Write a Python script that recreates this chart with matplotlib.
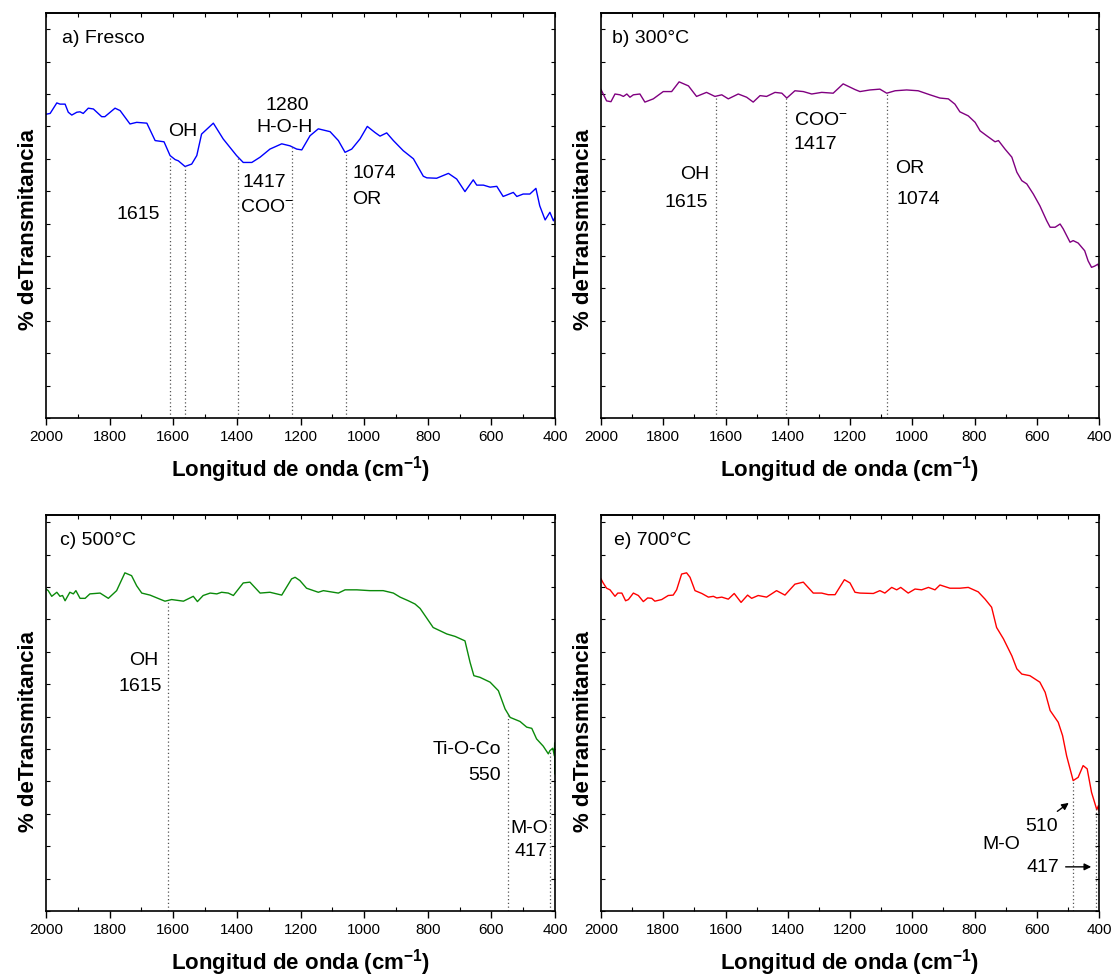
import numpy as np
import matplotlib
matplotlib.use("Agg")
import matplotlib.pyplot as plt
from matplotlib.ticker import MultipleLocator

plt.rcParams["font.family"] = ["Liberation Sans", "DejaVu Sans"]
plt.rcParams["mathtext.fontset"] = "custom"
plt.rcParams["mathtext.rm"] = "Liberation Sans"
plt.rcParams["mathtext.bf"] = "Liberation Sans:bold"
plt.rcParams["mathtext.default"] = "regular"

# ---- data: wavenumber (cm-1) and transmittance (arb. units) ----
wn_fresco = [2000, 1987, 1966, 1956, 1940, 1930, 1919, 1903, 1893, 1883, 1867, 1851, 1825,
             1815, 1783, 1767, 1736, 1715, 1683, 1657, 1629, 1610, 1594, 1584, 1563, 1542,
             1526, 1511, 1474, 1443, 1401, 1380, 1353, 1327, 1296, 1259, 1233, 1212, 1196,
             1170, 1144, 1107, 1081, 1060, 1039, 1013, 990, 966, 950, 929, 908, 877, 845,
             814, 803, 772, 735, 709, 683, 657, 646, 625, 604, 583, 563, 531, 520, 500, 479,
             460, 448, 431, 416, 405, 400]
t_fresco = [75.0, 75.2, 77.8, 77.5, 77.5, 75.5, 74.8, 75.5, 75.6, 75.2, 76.5, 76.3, 74.4,
            74.4, 76.5, 75.9, 72.6, 73.0, 72.8, 68.5, 68.2, 64.8, 63.8, 63.5, 62.1, 62.7,
            64.8, 70.1, 72.8, 68.9, 64.8, 63.1, 63.1, 64.4, 66.4, 67.7, 67.2, 66.4, 66.2,
            69.7, 71.4, 70.7, 68.5, 65.6, 66.4, 68.9, 72.0, 70.5, 69.6, 70.4, 68.5, 66.0,
            64.0, 59.7, 59.3, 59.2, 60.4, 59.0, 55.9, 58.8, 57.5, 57.5, 57.0, 57.2, 54.7,
            55.7, 54.7, 55.3, 55.3, 56.7, 52.4, 48.9, 50.8, 48.7, 49.5]

wn_300 = [2000, 1982, 1968, 1955, 1939, 1928, 1917, 1907, 1896, 1875, 1859, 1832, 1800,
          1773, 1749, 1719, 1693, 1661, 1634, 1612, 1591, 1559, 1532, 1511, 1489, 1468,
          1441, 1419, 1403, 1377, 1350, 1323, 1291, 1254, 1222, 1184, 1168, 1136, 1104,
          1082, 1055, 1018, 981, 943, 911, 884, 863, 847, 820, 798, 782, 761, 734, 723,
          702, 680, 664, 648, 632, 611, 590, 568, 557, 541, 525, 515, 493, 483, 467, 446,
          435, 424, 414, 403, 400]
t_300 = [81.1, 78.3, 78.1, 80.0, 79.8, 79.4, 80.0, 79.2, 79.8, 80.0, 78.0, 78.8, 80.6,
         80.6, 83.0, 82.0, 79.4, 80.4, 79.4, 79.8, 78.8, 80.0, 79.2, 78.0, 79.6, 79.4,
         80.4, 80.2, 79.0, 80.8, 80.6, 80.0, 80.4, 80.2, 82.5, 81.1, 80.6, 81.0, 81.2,
         80.2, 80.8, 81.0, 80.8, 79.8, 79.0, 78.8, 77.5, 75.6, 74.6, 73.0, 70.9, 69.7,
         68.2, 68.5, 66.4, 64.4, 60.7, 58.6, 57.8, 55.3, 52.4, 48.7, 47.1, 47.1, 47.9,
         46.7, 43.4, 43.8, 43.2, 41.3, 38.8, 37.2, 37.5, 38.0, 37.0]

wn_500 = [2000, 1993, 1982, 1966, 1956, 1948, 1940, 1925, 1914, 1906, 1893, 1877, 1862,
          1830, 1804, 1778, 1752, 1731, 1715, 1699, 1673, 1642, 1626, 1605, 1568, 1537,
          1524, 1506, 1484, 1463, 1448, 1427, 1411, 1380, 1359, 1327, 1296, 1259, 1228,
          1217, 1202, 1181, 1144, 1128, 1081, 1060, 1023, 982, 940, 908, 887, 861, 840,
          824, 803, 783, 740, 714, 683, 667, 655, 636, 604, 578, 557, 541, 510, 489, 473,
          458, 437, 421, 416, 407, 402, 401, 400, 400]
t_500 = [79.5, 79.1, 77.7, 78.7, 77.7, 77.9, 76.6, 78.7, 78.3, 79.1, 77.2, 77.2, 78.3,
         78.5, 77.2, 79.1, 83.5, 82.8, 80.3, 78.5, 78.0, 77.0, 76.5, 76.9, 76.5, 77.7,
         76.4, 77.9, 78.5, 78.3, 78.7, 78.5, 77.9, 81.0, 81.2, 78.5, 78.7, 78.0, 82.0,
         82.4, 81.6, 79.7, 78.7, 79.1, 78.5, 79.3, 79.3, 79.1, 79.1, 78.5, 77.5, 76.6,
         75.8, 74.7, 72.3, 70.0, 68.4, 67.8, 66.7, 61.4, 58.1, 57.7, 56.5, 54.4, 49.9,
         47.8, 46.8, 45.4, 45.1, 42.5, 40.7, 38.8, 39.6, 40.2, 38.3, 41.5, 33.8, 41.0]

wn_700 = [2000, 1993, 1982, 1971, 1955, 1946, 1933, 1921, 1912, 1896, 1880, 1864, 1850,
          1837, 1827, 1805, 1784, 1768, 1757, 1741, 1725, 1714, 1698, 1676, 1655, 1639,
          1628, 1612, 1591, 1572, 1550, 1529, 1516, 1495, 1468, 1436, 1409, 1377, 1350,
          1318, 1291, 1270, 1248, 1218, 1200, 1184, 1168, 1125, 1104, 1088, 1066, 1050,
          1037, 1013, 991, 970, 948, 927, 911, 879, 847, 820, 788, 766, 745, 729, 707,
          680, 664, 648, 622, 590, 573, 557, 531, 517, 504, 483, 467, 451, 438, 424, 407,
          402, 400]
t_700 = [82.0, 81.0, 79.7, 79.3, 77.7, 78.5, 78.5, 76.6, 76.9, 78.5, 77.9, 76.4, 77.3,
         77.2, 76.5, 76.9, 77.9, 78.0, 79.3, 83.2, 83.5, 82.4, 79.1, 78.4, 77.5, 77.7,
         77.3, 77.5, 77.0, 78.4, 76.2, 78.0, 77.2, 77.9, 77.5, 79.1, 78.0, 80.7, 81.2,
         78.5, 78.5, 78.1, 78.1, 81.8, 81.0, 78.7, 78.5, 78.4, 79.1, 78.5, 79.9, 79.3,
         79.9, 78.5, 79.5, 79.3, 79.9, 79.3, 80.5, 79.7, 79.7, 79.9, 78.8, 77.0, 75.0,
         70.0, 67.2, 63.0, 59.8, 58.5, 58.1, 56.5, 54.0, 49.5, 46.6, 43.3, 38.3, 32.2,
         33.0, 35.9, 35.1, 29.3, 25.0, 26.0, 24.7]

# marked bands (dotted guide lines)
marks_fresco = [1610, 1563, 1396, 1228, 1058]
marks_300 = [1631, 1406, 1081]
marks_500 = [1617, 548, 416]
marks_700 = [483, 410]

W, H = 1116, 978
fig = plt.figure(figsize=(W / 100, H / 100), dpi=100)


def make_axes(left, right, top, bottom):
    ax = fig.add_axes([left / W, 1 - bottom / H, (right - left) / W, (bottom - top) / H])
    return ax


def style(ax, ymax):
    ax.set_xlim(2000, 400)
    ax.set_ylim(0, ymax)
    ax.xaxis.set_major_locator(MultipleLocator(200))
    ax.xaxis.set_minor_locator(MultipleLocator(100))
    ax.tick_params(axis="x", which="major", direction="out", length=5, width=1,
                   labelsize=11, top=False, pad=3)
    ax.tick_params(axis="x", which="minor", direction="in", length=3, width=0.8, top=False)
    ax.yaxis.set_major_locator(MultipleLocator(8))
    ax.tick_params(axis="y", which="both", direction="in", length=3, width=0.8,
                   left=True, right=True, labelleft=False)
    sec = ax.secondary_xaxis("top")
    sec.xaxis.set_major_locator(MultipleLocator(100))
    sec.tick_params(axis="x", direction="in", length=3, width=0.8, labeltop=False)
    for s in ax.spines.values():
        s.set_linewidth(1.2)
    sec.spines["top"].set_linewidth(1.2)
    ax.set_xlabel(r"Longitud de onda (cm$^{\mathbf{-1}}$)", fontsize=16,
                  fontweight="bold", labelpad=7)
    ax.set_ylabel("% deTransmitancia", fontsize=16, fontweight="bold")


def guides(ax, wn, t, marks):
    xs = np.array(wn[::-1], dtype=float)
    ys = np.array(t[::-1], dtype=float)
    for m in marks:
        top = np.interp(m, xs, ys)
        ax.vlines(m, 0, top, colors="#555555", linestyles=(0, (1, 2)), linewidth=0.9)


fs = 14

# a) Fresco
ax = make_axes(46, 555, 14, 419)
style(ax, 100)
ax.plot(wn_fresco, t_fresco, color="#0000ff", lw=1.0)
guides(ax, wn_fresco, t_fresco, marks_fresco)
ax.text(0.031, 0.94, "a) Fresco", transform=ax.transAxes, fontsize=fs, va="center")
ax.text(1569, 71.1, "OH", fontsize=fs, ha="center", va="center")
ax.text(1711, 50.4, "1615", fontsize=fs, ha="center", va="center")
ax.text(1242, 77.3, "1280", fontsize=fs, ha="center", va="center")
ax.text(1249, 71.9, "H-O-H", fontsize=fs, ha="center", va="center")
ax.text(1381, 58.3, "1417", fontsize=fs, ha="left", va="center")
ax.text(1390, 52.1, "COO$^{-}$", fontsize=fs, ha="left", va="center")
ax.text(1038, 60.7, "1074", fontsize=fs, ha="left", va="center")
ax.text(1038, 54.1, "OR", fontsize=fs, ha="left", va="center")
ax.yaxis.set_label_coords(-0.014, 0.467)

# b) 300°C
ax = make_axes(601, 1099, 14, 419)
style(ax, 100)
ax.plot(wn_300, t_300, color="#800080", lw=1.0)
guides(ax, wn_300, t_300, marks_300)
ax.text(0.022, 0.94, "b) 300°C", transform=ax.transAxes, fontsize=fs, va="center")
ax.text(1653, 60.4, "OH", fontsize=fs, ha="right", va="center")
ax.text(1656, 53.5, "1615", fontsize=fs, ha="right", va="center")
ax.text(1380, 73.8, "COO$^{-}$", fontsize=fs, ha="left", va="center")
ax.text(1380, 67.7, "1417", fontsize=fs, ha="left", va="center")
ax.text(1055, 61.9, "OR", fontsize=fs, ha="left", va="center")
ax.text(1052, 54.1, "1074", fontsize=fs, ha="left", va="center")
ax.yaxis.set_label_coords(-0.014, 0.467)

# c) 500°C
ymax_bot = 396 / 4.05
ax = make_axes(46, 555, 516, 912)
style(ax, ymax_bot)
ax.plot(wn_500, t_500, color="#0a8a0a", lw=1.0)
guides(ax, wn_500, t_500, marks_500)
ax.text(0.028, 0.937, "c) 500°C", transform=ax.transAxes, fontsize=fs, va="center")
ax.text(1648, 62.2, "OH", fontsize=fs, ha="right", va="center")
ax.text(1635, 55.7, "1615", fontsize=fs, ha="right", va="center")
ax.text(570, 40.0, "Ti-O-Co", fontsize=fs, ha="right", va="center")
ax.text(570, 33.7, "550", fontsize=fs, ha="right", va="center")
ax.text(422, 20.7, "M-O", fontsize=fs, ha="right", va="center")
ax.text(425, 14.9, "417", fontsize=fs, ha="right", va="center")
ax.yaxis.set_label_coords(-0.014, 0.455)

# e) 700°C
ax = make_axes(601, 1099, 516, 912)
style(ax, ymax_bot)
ax.plot(wn_700, t_700, color="#ff0000", lw=1.0)
guides(ax, wn_700, t_700, marks_700)
ax.text(0.026, 0.937, "e) 700°C", transform=ax.transAxes, fontsize=fs, va="center")
ax.text(586, 21.0, "510", fontsize=fs, ha="center", va="center")
ax.text(713, 16.7, "M-O", fontsize=fs, ha="center", va="center")
ax.text(580, 10.9, "417", fontsize=fs, ha="center", va="center")
ax.annotate("", xy=(490, 27.1), xytext=(541, 24.2),
            arrowprops=dict(arrowstyle="-|>", color="black", lw=1.0, mutation_scale=10))
ax.annotate("", xy=(416, 10.9), xytext=(516, 10.9),
            arrowprops=dict(arrowstyle="-|>", color="black", lw=1.0, mutation_scale=10))
ax.yaxis.set_label_coords(-0.014, 0.455)

fig.savefig("out.png", dpi=100, facecolor="white")
